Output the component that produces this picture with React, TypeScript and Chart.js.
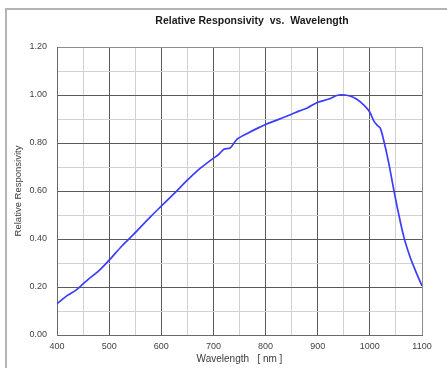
import React, { useEffect, useRef } from "react";
import { Chart, registerables } from "chart.js";

Chart.register(...registerables);

const wavelengths = [400, 420, 435, 445, 460, 480, 500, 525, 545, 580, 600, 625, 650, 675, 697, 710, 720, 732, 745, 765, 785, 800, 815, 833, 850, 865, 880, 900, 920, 940, 960, 975, 990, 1000, 1008, 1015, 1020, 1025, 1035, 1046, 1055, 1065, 1077, 1088, 1100];
const responsivity = [0.13, 0.165, 0.185, 0.203, 0.232, 0.267, 0.312, 0.372, 0.415, 0.494, 0.537, 0.59, 0.645, 0.695, 0.732, 0.752, 0.774, 0.779, 0.815, 0.84, 0.862, 0.877, 0.89, 0.905, 0.92, 0.934, 0.946, 0.97, 0.982, 1.0, 0.997, 0.982, 0.955, 0.928, 0.89, 0.872, 0.862, 0.825, 0.73, 0.604, 0.507, 0.41, 0.326, 0.265, 0.205];

const chartTitle = "Relative Responsivity  vs.  Wavelength";
const xTitle = "Wavelength   [ nm ]";
const yTitle = "Relative Responsivity";
const xMin = 400, xMax = 1100, xStep = 50, xLabelStep = 100;
const yMin = 0, yMax = 1.2, yStep = 0.1;

const FONT = '"Liberation Sans", Arial, Helvetica, sans-serif';
const MAJOR = "#5a5a5a";
const MINOR = "#d2d2d2";
const EDGE = "#8c8c8c";

const titlePlugin = {
  id: "centeredTitle",
  afterDraw(chart: any) {
    const ctx = chart.ctx;
    ctx.save();
    ctx.font = `bold 10.5px ${FONT}`;
    ctx.fillStyle = "#1a1a1a";
    ctx.textAlign = "center";
    ctx.textBaseline = "middle";
    ctx.fillText(chartTitle, 252, 21);
    ctx.restore();
  },
};

export default function App() {
  const ref = useRef<HTMLCanvasElement | null>(null);

  useEffect(() => {
    if (!ref.current) return;
    const chart = new Chart(ref.current, {
      type: "line",
      data: {
        datasets: [
          {
            data: wavelengths.map((w, i) => ({ x: w, y: responsivity[i] })),
            borderColor: "#3c3cff",
            borderWidth: 1.7,
            pointRadius: 0,
            tension: 0.3,
            fill: false,
          },
        ],
      },
      options: {
        responsive: false,
        animation: false,
        layout: { padding: { top: 47, right: 25, left: 0, bottom: 0 } },
        plugins: { legend: { display: false }, tooltip: { enabled: false }, title: { display: false } },
        scales: {
          x: {
            type: "linear",
            min: xMin,
            max: xMax,
            afterFit: (s: any) => { s.height = 33; },
            ticks: {
              stepSize: xStep,
              autoSkip: false,
              maxRotation: 0,
              padding: 6,
              color: "#444",
              font: { family: FONT, size: 9 },
              callback: (v: any) => (Math.round(v) % xLabelStep === 0 ? String(v) : ""),
            },
            grid: {
              drawTicks: false,
              lineWidth: 1,
              color: (c: any) => {
                const v = c.tick ? c.tick.value : 0;
                if (v === xMax) return EDGE;
                return Math.round(v) % xLabelStep === 0 ? MAJOR : MINOR;
              },
            },
            border: { display: true, color: "#6a6a6a", width: 1 },
            title: {
              display: true,
              text: xTitle,
              color: "#3a3a3a",
              font: { family: FONT, size: 10 },
              padding: { top: 0, bottom: 3 },
            },
          },
          y: {
            min: yMin,
            max: yMax,
            afterFit: (s: any) => { s.width = 57; },
            ticks: {
              stepSize: yStep,
              autoSkip: false,
              padding: 10,
              color: "#444",
              font: { family: FONT, size: 9 },
              callback: (v: any) => (Math.round(v * 10) % 2 === 0 ? Number(v).toFixed(2) : ""),
            },
            grid: {
              drawTicks: false,
              lineWidth: 1,
              color: (c: any) => {
                const v = c.tick ? c.tick.value : 0;
                if (Math.abs(v - yMax) < 1e-6) return EDGE;
                return Math.round(v * 10) % 2 === 0 ? MAJOR : MINOR;
              },
            },
            border: { display: true, color: "#6a6a6a", width: 1 },
            title: {
              display: true,
              text: yTitle,
              color: "#3a3a3a",
              font: { family: FONT, size: 9.5 },
              padding: { top: 13, bottom: 0 },
            },
          },
        },
      },
      plugins: [titlePlugin],
    });
    return () => chart.destroy();
  }, []);

  return (
    <div style={{ position: "fixed", left: 0, top: 0, width: 447, height: 368, overflow: "hidden", background: "#fff" }}>
      <div
        style={{
          position: "absolute",
          left: 5,
          top: 8,
          width: 460,
          height: 380,
          borderLeft: "2px solid #b4b4b4",
          borderTop: "2px solid #b4b4b4",
        }}
      />
      <canvas ref={ref} width={447} height={368} style={{ position: "absolute", left: 0, top: 0, width: 447, height: 368 }} />
    </div>
  );
}
